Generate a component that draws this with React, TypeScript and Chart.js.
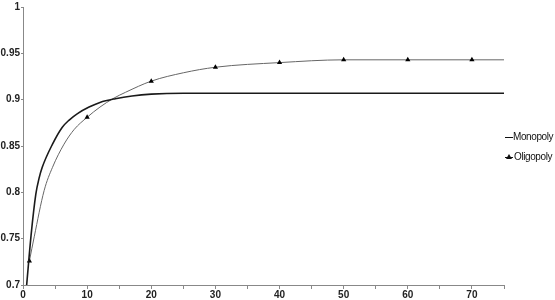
import React, { useEffect, useRef } from "react";
import { Chart, registerables } from "chart.js";

Chart.register(...registerables);

const monoX = [0.57, 1.25, 2, 2.5, 3, 4.6, 6.1, 7.2, 8.5, 10.3, 12, 14.4, 17, 20, 25, 30, 40, 50, 60, 70, 75];
const monoY = [0.7, 0.753, 0.798, 0.815, 0.827, 0.852, 0.87, 0.878, 0.885, 0.892, 0.897, 0.901, 0.904, 0.906, 0.907, 0.907, 0.907, 0.907, 0.907, 0.907, 0.907];

const oliX = [1, 1.75, 3.3, 4.6, 6.4, 8, 10, 12, 14, 16, 20, 25, 30, 40, 50, 60, 70, 75];
const oliY = [0.726, 0.752, 0.802, 0.827, 0.852, 0.868, 0.881, 0.892, 0.901, 0.908, 0.92, 0.929, 0.935, 0.94, 0.943, 0.943, 0.943, 0.943];
const oliMarked = [1, 10, 20, 30, 40, 50, 60, 70];

const seriesNames = ["Monopoly", "Oligopoly"];
const yTicks = [0.7, 0.75, 0.8, 0.85, 0.9, 0.95, 1];

export default function App() {
  const ref = useRef<HTMLCanvasElement | null>(null);
  useEffect(() => {
    document.body.style.margin = "0";
    const font = { family: "'Liberation Sans Narrow', 'Liberation Sans', Arial, sans-serif", size: 10, weight: "bold" as const };
    const chart = new Chart(ref.current!, {
      type: "line",
      data: {
        datasets: [
          {
            label: seriesNames[0],
            data: monoX.map((x, i) => ({ x, y: monoY[i] })),
            borderColor: "#1a1a1a",
            borderWidth: 1.6,
            pointRadius: 0,
            cubicInterpolationMode: "monotone",
            fill: false,
          },
          {
            label: seriesNames[1],
            data: oliX.map((x, i) => ({ x, y: oliY[i] })),
            borderColor: "#666",
            borderWidth: 1,
            pointStyle: "triangle",
            pointRadius: oliX.map((x) => (oliMarked.includes(x) ? 3 : 0)),
            pointBackgroundColor: "#000",
            pointBorderColor: "#000",
            pointBorderWidth: 0,
            cubicInterpolationMode: "monotone",
            fill: false,
          },
        ],
      },
      options: {
        animation: false,
        responsive: false,
        maintainAspectRatio: false,
        layout: { padding: { top: 5, right: 51, left: 0, bottom: 0 } },
        plugins: { legend: { display: false }, tooltip: { enabled: false } },
        scales: {
          x: {
            type: "linear",
            min: 0,
            max: 75,
            grid: { drawOnChartArea: false, tickLength: 4, color: "#888" },
            border: { color: "#888", width: 1 },
            ticks: {
              stepSize: 5,
              autoSkip: false,
              maxRotation: 0,
              padding: 0,
              color: "#222",
              font,
              callback: (v: any) => (Number(v) % 10 === 0 ? String(v) : ""),
            },
            afterFit: (s: any) => {
              s.height = 15;
            },
          },
          y: {
            type: "linear",
            min: 0.7,
            max: 1,
            afterBuildTicks: (s: any) => {
              s.ticks = yTicks.map((v) => ({ value: v }));
            },
            grid: { drawOnChartArea: false, tickLength: 2, color: "#888" },
            border: { color: "#888", width: 1 },
            ticks: {
              padding: 1,
              color: "#222",
              font,
              callback: (v: any) => String(Number(v).toFixed(2)).replace(/0+$/, "").replace(/\.$/, ""),
            },
            afterFit: (s: any) => {
              s.width = 23;
            },
          },
        },
      },
    });
    return () => chart.destroy();
  }, []);

  const legendFont = "'Liberation Sans Narrow', 'Liberation Sans', Arial, sans-serif";
  return (
    <div style={{ position: "fixed", left: 0, top: 0, width: 555, height: 300, background: "#fff" }}>
      <canvas ref={ref} width={555} height={300} style={{ width: 555, height: 300 }} />
      <div style={{ position: "absolute", left: 505, top: 127, fontFamily: legendFont, fontSize: 10, letterSpacing: "-0.4px", color: "#111", lineHeight: "20px", whiteSpace: "nowrap" }}>
        <div style={{ display: "flex", alignItems: "center" }}>
          <span style={{ display: "inline-block", width: 8, borderTop: "1px solid #111" }} />
          <span>{seriesNames[0]}</span>
        </div>
        <div style={{ display: "flex", alignItems: "center" }}>
          <span style={{ position: "relative", display: "inline-block", width: 8, height: 6, marginRight: 1 }}>
            <span style={{ position: "absolute", left: 0, top: 3, width: 8, borderTop: "1px solid #111" }} />
            <span style={{ position: "absolute", left: 1, top: 0, width: 0, height: 0, borderLeft: "3px solid transparent", borderRight: "3px solid transparent", borderBottom: "5px solid #111" }} />
          </span>
          <span>{seriesNames[1]}</span>
        </div>
      </div>
    </div>
  );
}
